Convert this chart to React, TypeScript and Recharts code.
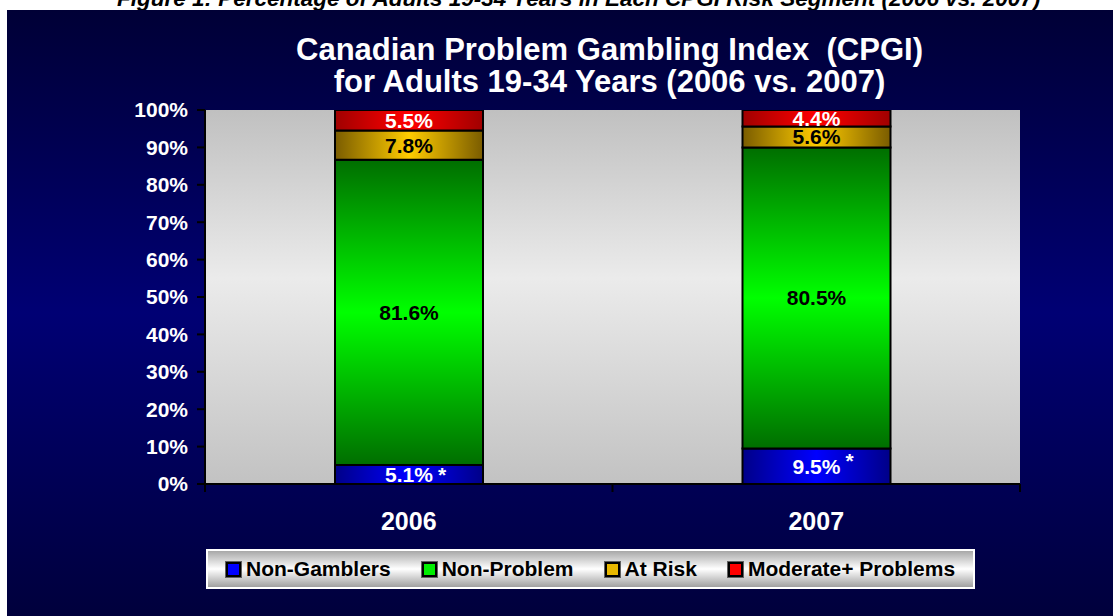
import { BarChart, Bar, XAxis, YAxis, LabelList, CartesianGrid } from 'recharts';

const years = ['2006', '2007'];
const nonGamblers = [5.1, 9.5];
const nonProblem = [81.6, 80.5];
const atRisk = [7.8, 5.6];
const moderate = [5.5, 4.4];
const yTicks = [0, 10, 20, 30, 40, 50, 60, 70, 80, 90, 100];

const series = [
  { key: 'nonGamblers', name: 'Non-Gamblers', fill: 'url(#gBlue)', swatch: '#0000ff', text: '#ffffff', star: true },
  { key: 'nonProblem', name: 'Non-Problem', fill: 'url(#gGreen)', swatch: '#00ee00', text: '#000000', star: false },
  { key: 'atRisk', name: 'At Risk', fill: 'url(#gGold)', swatch: '#e8b800', text: '#000000', star: false },
  { key: 'moderate', name: 'Moderate+ Problems', fill: 'url(#gRed)', swatch: '#ff0000', text: '#ffffff', star: false },
];

const data = years.map((y, i) => ({
  year: y,
  nonGamblers: nonGamblers[i],
  nonProblem: nonProblem[i],
  atRisk: atRisk[i],
  moderate: moderate[i],
}));

const FONT = '"Liberation Sans", Arial, sans-serif';
const W = 1113;
const H = 616;
const PLOT_L = 205;
const PLOT_R = 1020;
const BAND = (PLOT_R - PLOT_L) / years.length;

function XTick(props: any) {
  const { x, y, payload } = props;
  return (
    <g>
      <line x1={x - BAND / 2} x2={x - BAND / 2} y1={y - 8} y2={y} stroke="#000" strokeWidth={2} />
      {payload.index === years.length - 1 && (
        <line x1={x + BAND / 2} x2={x + BAND / 2} y1={y - 8} y2={y} stroke="#000" strokeWidth={2} />
      )}
      <text x={x} y={y + 38} textAnchor="middle" fill="#fff" fontSize={25} fontWeight="bold" fontFamily={FONT}>
        {payload.value}
      </text>
    </g>
  );
}

function makeLabel(color: string, star: boolean) {
  return (props: any) => {
    const { x, y, width, height, value, index } = props;
    const cx = x + width / 2;
    const cy = y + height / 2;
    return (
      <g>
        <text x={cx} y={cy} dy="0.36em" textAnchor="middle" fill={color} fontSize={21} fontWeight="bold" fontFamily={FONT}>
          {`${value}%`}
        </text>
        {star && (
          <text x={cx + 29} y={cy} dy={index === 1 ? '0.1em' : '0.36em'} textAnchor="start" fill={color} fontSize={21} fontWeight="bold" fontFamily={FONT}>
            *
          </text>
        )}
      </g>
    );
  };
}

export default function App() {
  return (
    <div style={{ position: 'absolute', left: 0, top: 0, width: W, height: H, background: '#fff', overflow: 'hidden', fontFamily: FONT }}>
      <div style={{ position: 'absolute', left: 117, top: -12, fontSize: 22.5, lineHeight: '22px', fontWeight: 'bold', fontStyle: 'italic', whiteSpace: 'nowrap', color: '#000' }}>
        Figure 1: Percentage of Adults 19-34 Years in Each CPGI Risk Segment (2006 vs. 2007)
      </div>
      <div style={{ position: 'absolute', left: 7, top: 10, width: W - 7, height: H - 10, background: 'linear-gradient(to bottom, #000036 0%, #000074 50%, #00003c 100%)' }} />
      <div style={{ position: 'absolute', left: 0, width: 1219, top: 34, textAlign: 'center', color: '#fff', fontSize: 31, lineHeight: '32px', fontWeight: 'bold' }}>
        <div>Canadian Problem Gambling Index&nbsp; (CPGI)</div>
        <div>for Adults 19-34 Years (2006 vs. 2007)</div>
      </div>
      <div style={{ position: 'absolute', left: 0, top: 0 }}>
        <BarChart width={W} height={H} data={data} margin={{ top: 110, right: W - PLOT_R, left: PLOT_L - 80, bottom: 72 }} barSize={148}>
          <defs>
            <linearGradient id="gPlot" x1="0" y1="0" x2="0" y2="1">
              <stop offset="0%" stopColor="#c0c0c0" />
              <stop offset="45%" stopColor="#ebebeb" />
              <stop offset="100%" stopColor="#c2c2c2" />
            </linearGradient>
            <linearGradient id="gBlue" x1="0" y1="0" x2="1" y2="0">
              <stop offset="0%" stopColor="#000088" />
              <stop offset="50%" stopColor="#0000ff" />
              <stop offset="100%" stopColor="#000088" />
            </linearGradient>
            <linearGradient id="gGreen" x1="0" y1="0" x2="0" y2="1">
              <stop offset="0%" stopColor="#006e00" />
              <stop offset="50%" stopColor="#00ff00" />
              <stop offset="100%" stopColor="#006e00" />
            </linearGradient>
            <linearGradient id="gGold" x1="0" y1="0" x2="1" y2="0">
              <stop offset="0%" stopColor="#7a5c00" />
              <stop offset="50%" stopColor="#ffcc00" />
              <stop offset="100%" stopColor="#7a5c00" />
            </linearGradient>
            <linearGradient id="gRed" x1="0" y1="0" x2="1" y2="0">
              <stop offset="0%" stopColor="#a00000" />
              <stop offset="50%" stopColor="#ff0000" />
              <stop offset="100%" stopColor="#a00000" />
            </linearGradient>
          </defs>
          <CartesianGrid horizontal={false} vertical={false} fill="url(#gPlot)" fillOpacity={1} stroke="none" />
          <XAxis xAxisId="top" orientation="top" dataKey="year" height={0} tick={false} tickLine={false} axisLine={{ stroke: '#808080', strokeWidth: 2 }} />
          <YAxis yAxisId="right" orientation="right" width={0} domain={[0, 100]} allowDataOverflow tick={false} tickLine={false} axisLine={{ stroke: '#808080', strokeWidth: 2 }} />
          <XAxis dataKey="year" height={60} tickLine={false} tick={<XTick />} axisLine={{ stroke: '#000', strokeWidth: 2 }} />
          <YAxis
            width={80}
            domain={[0, 100]}
            allowDataOverflow
            ticks={yTicks}
            interval={0}
            tickFormatter={(v: number) => `${v}%`}
            tick={{ fill: '#fff', fontSize: 21, fontWeight: 'bold', fontFamily: FONT }}
            tickSize={8}
            tickMargin={9}
            tickLine={{ stroke: '#000', strokeWidth: 2 }}
            axisLine={{ stroke: '#000', strokeWidth: 2 }}
          />
          {series.map((s) => (
            <Bar
              key={s.key}
              dataKey={s.key}
              name={s.name}
              stackId="a"
              fill={s.fill}
              stroke="#000"
              strokeWidth={2}
              isAnimationActive={false}
            >
              <LabelList dataKey={s.key} content={makeLabel(s.text, s.star)} />
            </Bar>
          ))}
        </BarChart>
      </div>
      <div style={{ position: 'absolute', left: 206, top: 549, width: 769, height: 40, boxSizing: 'border-box', border: '2px solid #fff', background: 'linear-gradient(to bottom, #a8a8a8 0%, #ffffff 50%, #a0a0a0 100%)', display: 'flex', alignItems: 'center', paddingLeft: 18 }}>
        {series.map((s, i) => (
          <div key={s.key} style={{ display: 'flex', alignItems: 'center', marginRight: i < series.length - 1 ? 31 : 0 }}>
            <div style={{ width: 11, height: 11, background: s.swatch, border: '2px solid #000', outline: '1px solid #606060', marginRight: 5 }} />
            <span style={{ fontSize: 21, fontWeight: 'bold', color: '#000', whiteSpace: 'nowrap' }}>{s.name}</span>
          </div>
        ))}
      </div>
    </div>
  );
}
